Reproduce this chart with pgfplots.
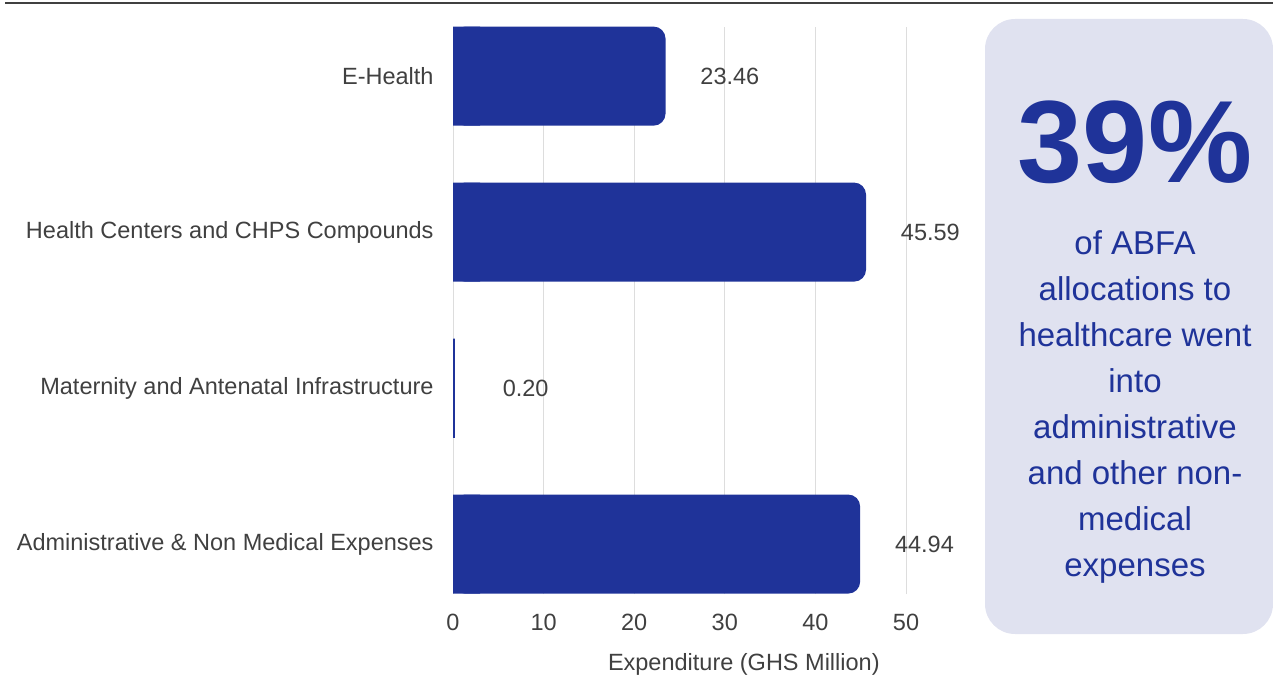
\documentclass[border=0pt]{standalone}
\usepackage{fontspec}
\setmainfont{Liberation Sans}
\usepackage{pgfplots}
\pgfplotsset{compat=1.18}
\definecolor{barblue}{HTML}{1F3399}
\definecolor{boxfill}{HTML}{E0E2F0}
\definecolor{lblgray}{HTML}{404040}
\definecolor{gridgray}{HTML}{DDDDDD}
\newcommand\lbl{\fontsize{23.5}{28}\selectfont}
\begin{document}
\begin{tikzpicture}
\path[use as bounding box] (0pt,0pt) rectangle (1273pt,675pt);
\draw[line width=2.5pt, color=black!75] (5pt,672pt) -- (1273pt,672pt);
\fill[boxfill, rounded corners=30pt] (985pt,41pt) rectangle (1273pt,656pt);
\begin{axis}[
  at={(453pt,81pt)}, anchor=south west,
  scale only axis, width=453pt, height=567pt,
  xmin=0, xmax=50, ymin=-0.32, ymax=3.315,
  xbar, bar width=0.635, bar shift=0pt,
  axis line style={draw=none},
  major tick style={draw=none},
  minor tick style={draw=none},
  xtick={0,10,...,50},
  ytick={0,1,2,3},
  yticklabels={Administrative \& Non Medical Expenses, Maternity and Antenatal Infrastructure, Health Centers and CHPS Compounds, E-Health},
  xmajorgrids, major grid style={draw=gridgray, line width=1pt},
  /pgf/number format/assume math mode=true,
  tick label style={font=\lbl, text=lblgray},
  xticklabel style={anchor=base, yshift=-36pt, inner sep=0pt},
  yticklabel style={anchor=east, xshift=-15pt, inner sep=0pt},
  xlabel={Expenditure (GHS Million)},
  xlabel style={at={(axis description cs:0.642,0)}, anchor=base, yshift=-76pt, inner sep=0pt, font=\lbl, text=lblgray},
  nodes near coords={\makebox[0pt][r]{\pgfplotspointmeta}},
  point meta=explicit symbolic,
  every node near coord/.append style={font=\lbl, text=lblgray, inner sep=0pt, anchor=west, xshift=93pt},
  clip=false,
]
\addplot[fill=barblue, draw=none, rounded corners=12pt] coordinates {(23.46,3) [23.46]};
\addplot[fill=barblue, draw=none, rounded corners=12pt] coordinates {(45.59,2) [45.59]};
\addplot[fill=barblue, draw=none] coordinates {(0.20,1) [0.20]};
\addplot[fill=barblue, draw=none, rounded corners=12pt] coordinates {(44.94,0) [44.94]};
\end{axis}
\begin{axis}[
  at={(453pt,81pt)}, anchor=south west,
  scale only axis, width=27.18pt, height=567pt,
  xmin=0, xmax=3, ymin=-0.32, ymax=3.315,
  xbar, bar width=0.635, bar shift=0pt,
  hide axis,
]
\addplot[fill=barblue, draw=none] coordinates {(23.46,3) (45.59,2) (0.20,1) (44.94,0)};
\end{axis}
\node[anchor=base, font=\fontsize{117}{117}\selectfont\bfseries, text=barblue] at (1135pt,492pt) {39\%};
\node[align=center, font=\fontsize{33}{46}\selectfont, text=barblue] at (1135pt,268pt) {of ABFA\\allocations to\\healthcare went\\into\\administrative\\and other non-\\medical\\expenses};
\end{tikzpicture}
\end{document}
